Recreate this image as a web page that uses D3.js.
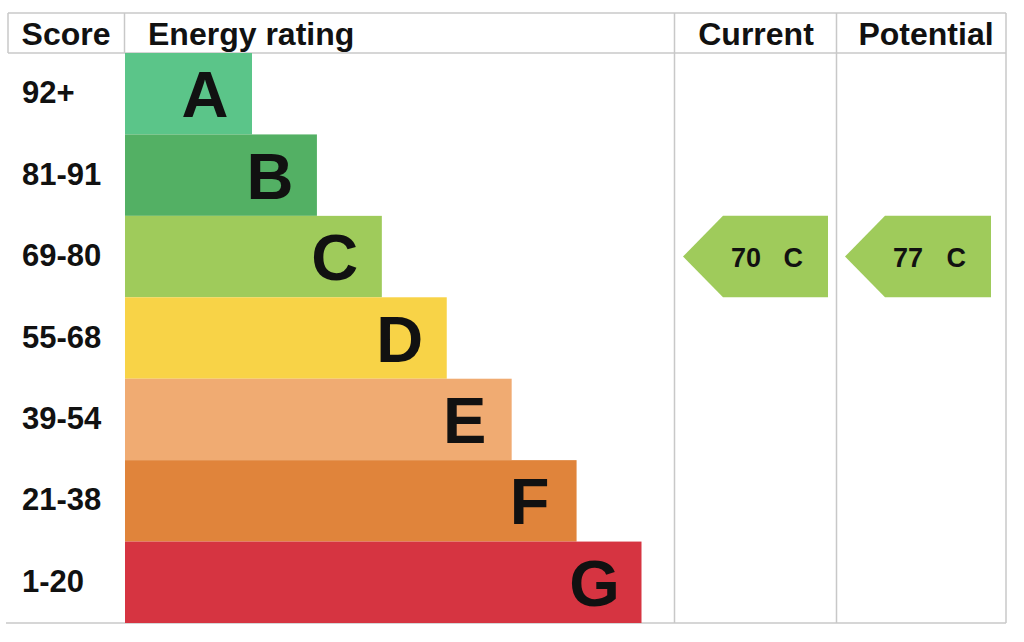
<!DOCTYPE html>
<html><head><meta charset="utf-8">
<script src="https://cdn.jsdelivr.net/npm/d3@7/dist/d3.min.js"></script>
<style>body{margin:0;background:#fff}svg{display:block}text{font-family:"Liberation Sans",Arial,sans-serif;font-weight:bold;fill:#111}</style>
</head><body>
<script>
const bands = ["A","B","C","D","E","F","G"];
const scores = ["92+","81-91","69-80","55-68","39-54","21-38","1-20"];
const bandLengths = [1,2,3,4,5,6,7];
const colors = ["#5bc589","#53b064","#9fcb5b","#f8d347","#f0ab72","#e0843b","#d63441"];
const headers = ["Score","Energy rating","Current","Potential"];
const currentScore = 70, currentBand = "C";
const potentialScore = 77, potentialBand = "C";

(function(){
const W = 1024, H = 642;
const svg = d3.select("body").append("svg").attr("width", W).attr("height", H);

const yTop = 13, headBot = 53, yBottom = 623;
const xLeft = 8, colE = 124.5, colC = 674.5, colP = 836.5, xRight = 1006;

const y = d3.scaleBand().domain(bands).range([headBot, yBottom]).padding(0);
const xr = d3.scaleLinear().domain([1, 7]).range([252, 641.5]);

const grid = "#c8c8c8";
const g = svg.append("g").attr("stroke", grid).attr("stroke-width", 1.5);
g.append("line").attr("x1", xLeft).attr("x2", xRight).attr("y1", yTop).attr("y2", yTop);
g.append("line").attr("x1", xLeft).attr("x2", xRight).attr("y1", headBot).attr("y2", headBot);
g.append("line").attr("x1", 6).attr("x2", xRight).attr("y1", yBottom).attr("y2", yBottom);
g.append("line").attr("x1", xLeft).attr("x2", xLeft).attr("y1", yTop).attr("y2", headBot);
g.append("line").attr("x1", colE).attr("x2", colE).attr("y1", yTop).attr("y2", headBot);
[colC, colP, xRight].forEach(cx => g.append("line").attr("x1", cx).attr("x2", cx).attr("y1", yTop).attr("y2", yBottom));

const hx = [{x: 66, a: "middle"}, {x: 148, a: "start"}, {x: 756, a: "middle"}, {x: 926, a: "middle"}];
svg.selectAll("text.h").data(headers).join("text").attr("class","h")
  .attr("x", (d,i) => hx[i].x).attr("y", 45).attr("text-anchor", (d,i) => hx[i].a)
  .attr("font-size", 32).text(d => d);

svg.selectAll("rect.bar").data(bands).join("rect").attr("class","bar")
  .attr("x", 125).attr("y", d => y(d)).attr("height", y.bandwidth())
  .attr("width", (d,i) => xr(bandLengths[i]) - 125)
  .attr("fill", (d,i) => colors[i]);

svg.selectAll("text.band").data(bands).join("text").attr("class","band")
  .attr("x", (d,i) => xr(bandLengths[i]) - 47)
  .attr("y", d => y(d) + y.bandwidth()/2 + 23.5)
  .attr("text-anchor", "middle").attr("font-size", 65).text(d => d);

svg.selectAll("text.score").data(scores).join("text").attr("class","score")
  .attr("x", 22).attr("y", (d,i) => y(bands[i]) + y.bandwidth()/2 + 9.5)
  .attr("font-size", 31).text(d => d);

function arrow(x0, x1, band, score, letter) {
  const y0 = y(band), h = y.bandwidth(), ym = y0 + h/2;
  const tipW = 40;
  svg.append("path")
    .attr("d", `M${x0},${ym} L${x0+tipW},${y0} L${x1},${y0} L${x1},${y0+h} L${x0+tipW},${y0+h} Z`)
    .attr("fill", colors[bands.indexOf(band)]);
  svg.append("text").attr("x", x0 + 48).attr("y", ym + 10).attr("font-size", 27).text(score);
  svg.append("text").attr("x", x1 - 25).attr("y", ym + 10).attr("text-anchor","end").attr("font-size", 27).text(letter);
}
arrow(683, 828, currentBand, currentScore, currentBand);
arrow(845, 991, potentialBand, potentialScore, potentialBand);
})();
</script>
</body></html>
